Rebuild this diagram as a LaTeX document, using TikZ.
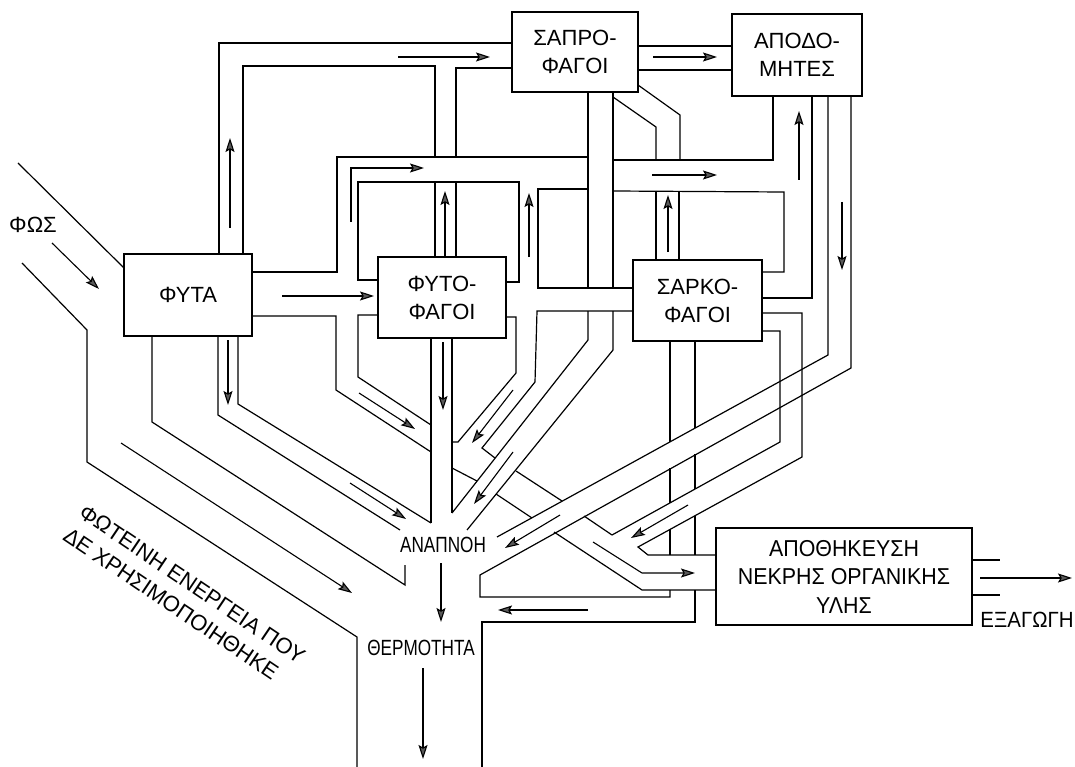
\documentclass[tikz,border=0pt]{standalone}
\usepackage{fontspec}
\setmainfont{Liberation Sans}
\newfontfamily\narrowA[FakeStretch=0.78]{Liberation Sans}
\newfontfamily\narrowB[FakeStretch=0.93]{Liberation Sans}
\usetikzlibrary{arrows.meta}
\begin{document}
\begin{tikzpicture}[x=1pt,y=-1pt,
  wall/.style={line width=1.2pt, line join=miter},
  flow/.style={line width=1.1pt, -{Stealth[length=14pt,width=9pt,inset=2.5pt,fill=black!65]}},
  box/.style={draw, line width=1.2pt, fill=white, align=center, inner sep=0pt,
    font=\fontsize{22}{28}\selectfont},
  narrowlab/.style={inner sep=0pt, align=center, font=\narrowA\fontsize{22}{28}\selectfont},
  widelab/.style={inner sep=0pt, align=center, font=\narrowB\fontsize{22}{28.5}\selectfont}
]
\useasboundingbox (0,0) rectangle (1075,767);
\fill[white] (0,0) rectangle (1075,767);

% ---- light input and unused light channel
\draw[wall] (18,163) -- (124,268);
\draw[wall] (22,263) -- (87,330) -- (87,462) -- (357,637) -- (357,767);
\draw[wall] (152,336) -- (152,422) -- (405,585) -- (405,565);

% ---- top loop to saprophages
\draw[wall] (219,254) -- (219,43) -- (512,43);
\draw[wall] (243,254) -- (243,66) -- (435,66) -- (435,157);
\draw[wall] (456,157) -- (456,68) -- (512,68);
\draw[wall] (638,46) -- (732,46);
\draw[wall] (638,70) -- (732,70);

% ---- middle horizontal channel
\draw[wall] (252,272) -- (337,272) -- (337,157) -- (588,157);
\draw[wall] (613,160) -- (773,160) -- (773,96);
\draw[wall] (378,280) -- (358,280) -- (358,182) -- (519,182) -- (519,282) -- (506,282);
\draw[wall] (588,189) -- (538,189) -- (538,288) -- (633,288);
\draw[wall] (613,191) -- (784,192) -- (784,272) -- (762,272);
\draw[wall] (812,96) -- (812,298) -- (762,298);
\draw[wall] (435,182) -- (435,257);
\draw[wall] (456,182) -- (456,257);

% ---- saprophage channels
\draw[wall] (588,92) -- (588,288);
\draw[wall] (588,311) -- (588,340) -- (452,513);
\draw[wall] (613,92) -- (613,288);
\draw[wall] (613,311) -- (613,350) -- (467,530);
\draw[wall] (613,97) -- (656,127) -- (656,160);
\draw[wall] (638,85) -- (680,115) -- (680,160);
\draw[wall] (656,191) -- (656,260);
\draw[wall] (679,191) -- (679,260);

% ---- channels around the herbivores
\draw[wall] (252,316) -- (336,316) -- (336,390) -- (431,452);
\draw[wall] (378,315) -- (358,315) -- (358,377) -- (431,425);
\draw[wall] (218,336) -- (218,415) -- (400,530);
\draw[wall] (238,336) -- (238,404) -- (431,523);
\draw[wall] (431,338) -- (431,523);
\draw[wall] (452,338) -- (452,513);
\draw[wall] (506,317) -- (516,317) -- (516,373) -- (458,442) -- (452,442);
\draw[wall] (633,311) -- (537,311) -- (535,382) -- (482,448) -- (495,458);

% ---- channel to storage
\draw[wall] (452,468) -- (477,481);
\draw[wall] (496,494) -- (532,518);
\draw[wall] (554,532) -- (642,590) -- (716,590);
\draw[wall] (516,471) -- (562,501);
\draw[wall] (584,516) -- (612,535);
\draw[wall] (762,331) -- (780,331) -- (780,442) -- (612,535);
\draw[wall] (762,313) -- (802,313) -- (802,457) -- (638,547) -- (648,555) -- (716,555);

% ---- decomposers respiration
\draw[wall] (828,96) -- (828,355) -- (497,537);
\draw[wall] (851,96) -- (851,368) -- (480,575) -- (480,597) -- (670,597) -- (670,590);

% ---- carnivores bottom channel
\draw[wall] (670,341) -- (670,442);
\draw[wall] (670,468) -- (670,503);
\draw[wall] (670,529) -- (670,555);
\draw[wall] (695,341) -- (695,428);
\draw[wall] (695,454) -- (695,489);
\draw[wall] (695,516) -- (695,555);
\draw[wall] (695,590) -- (695,622) -- (482,622) -- (482,767);

% ---- export
\draw[wall] (972,560) -- (1000,560);
\draw[wall] (972,595) -- (1000,595);

% ---- flow arrows
\draw[flow] (52,243) -- (99,289);
\draw[flow] (230,228) -- (230,138);
\draw[flow] (398,57) -- (490,57);
\draw[flow] (351,222) -- (351,168) -- (424,168);
\draw[flow] (445,257) -- (445,191);
\draw[flow] (529,257) -- (529,193);
\draw[flow] (652,175) -- (717,175);
\draw[flow] (653,57) -- (717,57);
\draw[flow] (668,252) -- (668,195);
\draw[flow] (799,180) -- (799,111);
\draw[flow] (842,202) -- (842,270);
\draw[flow] (282,296) -- (374,296);
\draw[flow] (228,340) -- (228,405);
\draw[flow] (443,342) -- (443,410);
\draw[flow] (359,393) -- (415,429);
\draw[flow] (513,390) -- (472,443);
\draw[flow] (513,452) -- (474,504);
\draw[flow] (350,483) -- (406,519);
\draw[flow] (121,443) -- (352,593);
\draw[flow] (560,515) -- (505,548);
\draw[flow] (688,505) -- (631,538);
\draw[flow] (593,542) -- (642,573) -- (695,573);
\draw[flow] (588,610) -- (498,610);
\draw[flow] (441,563) -- (441,622);
\draw[flow] (423,668) -- (423,759);
\draw[flow] (980,578) -- (1072,578);

% ---- boxes
\node[box, minimum width=128pt, minimum height=82pt] (fyta) at (188,295) {ΦΥΤΑ};
\node[box, minimum width=126pt, minimum height=80pt] (sapro) at (575,52) {ΣΑΠΡΟ-\\ΦΑΓΟΙ};
\node[box, minimum width=130pt, minimum height=82pt] (apodo) at (797,55) {ΑΠΟΔΟ-\\ΜΗΤΕΣ};
\node[box, minimum width=128pt, minimum height=81pt] (fyto) at (442,297.5) {ΦΥΤΟ-\\ΦΑΓΟΙ};
\node[box, minimum width=129pt, minimum height=81pt] (sarko) at (697.5,300.5) {ΣΑΡΚΟ-\\ΦΑΓΟΙ};
\node[box, minimum width=256pt, minimum height=97pt,
      font=\narrowB\fontsize{23}{28.5}\selectfont] (apoth) at (844,576.5)
      {ΑΠΟΘΗΚΕΥΣΗ\\ΝΕΚΡΗΣ ΟΡΓΑΝΙΚΗΣ\\ΥΛΗΣ};

% ---- labels
\node[inner sep=0pt, font=\fontsize{22}{28}\selectfont] (fos) at (33,225) {ΦΩΣ};
\node[narrowlab] (anapnoi) at (443,545) {ΑΝΑΠΝΟΗ};
\node[narrowlab] (thermo) at (421,648) {ΘΕΡΜΟΤΗΤΑ};
\node[widelab] (exag) at (1027,620) {ΕΞΑΓΩΓΗ};
\node[anchor=north west, rotate=-34, inner sep=0pt, align=left,
      font=\fontsize{22}{28}\selectfont] (unused) at (86,503)
      {ΦΩΤΕΙΝΗ ΕΝΕΡΓΕΙΑ ΠΟΥ\\ΔΕ ΧΡΗΣΙΜΟΠΟΙΗΘΗΚΕ};
\end{tikzpicture}
\end{document}
